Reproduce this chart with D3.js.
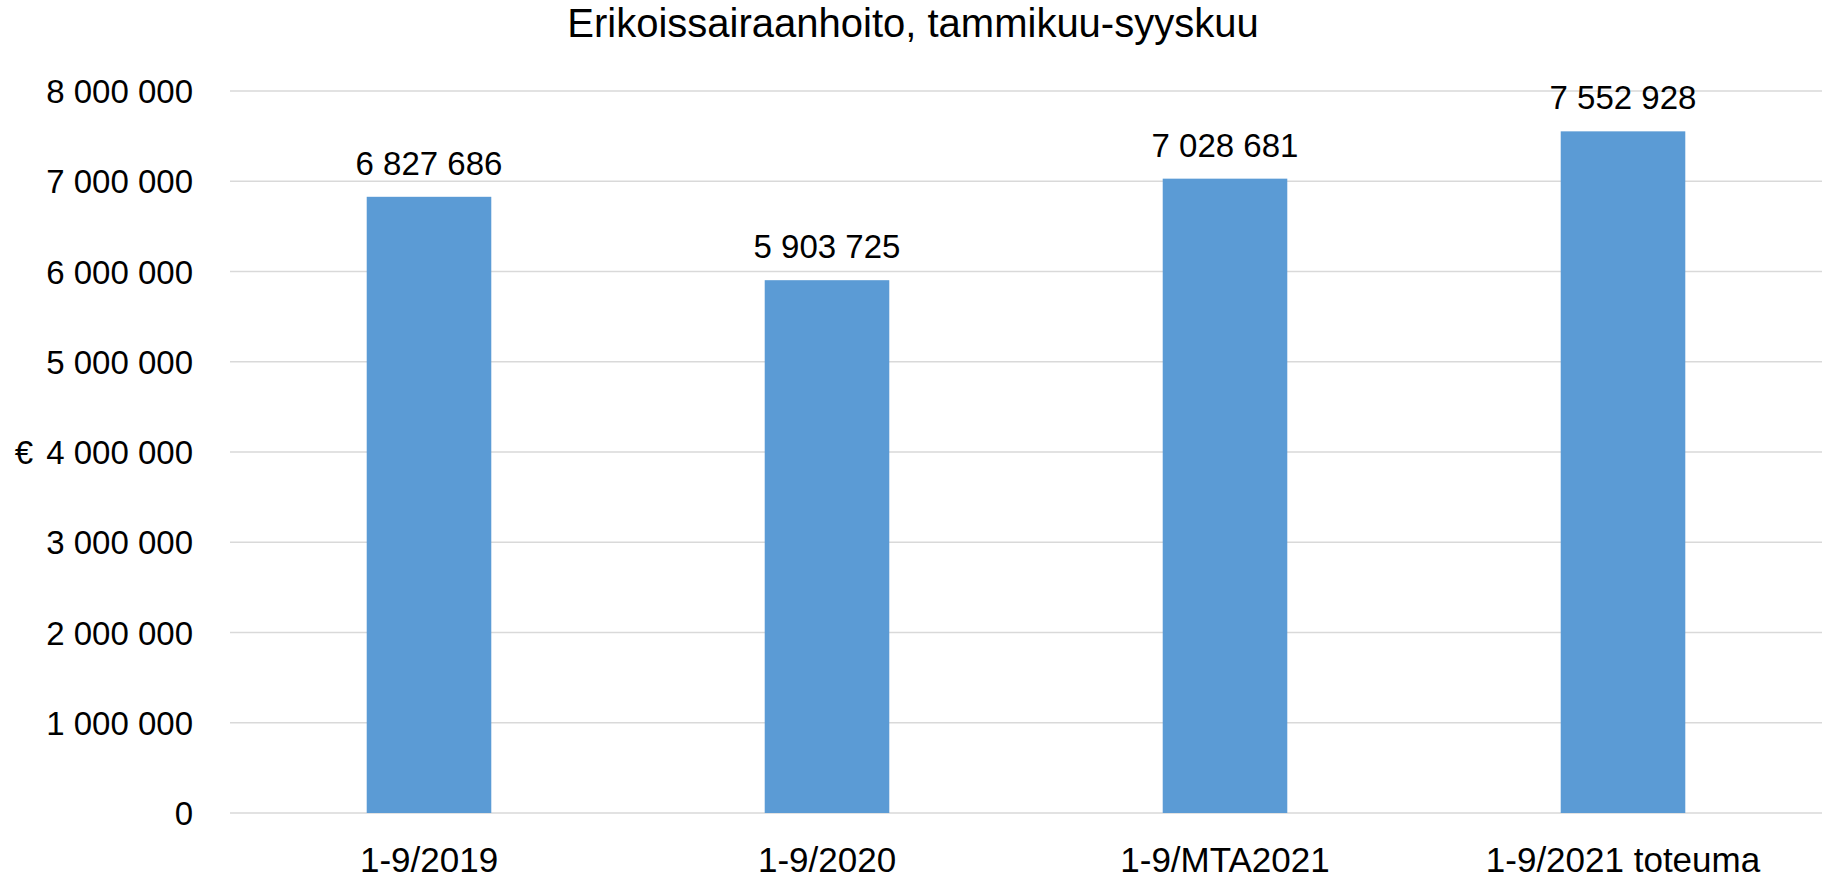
<!DOCTYPE html>
<html>
<head>
<meta charset="utf-8">
<script src="https://cdn.jsdelivr.net/npm/d3@7"></script>
<style>
  html, body { margin: 0; padding: 0; background: #fff; }
  svg { display: block; }
  text { font-family: "Liberation Sans", Arial, sans-serif; fill: #000; }
</style>
</head>
<body>
<svg id="chart" width="1825" height="879"></svg>
<script>
const categories = ["1-9/2019", "1-9/2020", "1-9/MTA2021", "1-9/2021 toteuma"];
const values = [6827686, 5903725, 7028681, 7552928];
const yTicks = [0, 1000000, 2000000, 3000000, 4000000, 5000000, 6000000, 7000000, 8000000];
const titleText = "Erikoissairaanhoito, tammikuu-syyskuu";
const yAxisTitle = "€";

const W = 1825, H = 879;
const margin = { left: 230, right: 3, top: 91, bottom: 66 };
const svg = d3.select("#chart");

const fmt = v => d3.format(",")(v).replace(/,/g, " ");

const x = d3.scaleBand()
  .domain(categories)
  .range([margin.left, W - margin.right])
  .paddingInner(0.687)
  .paddingOuter(0.3435);

const y = d3.scaleLinear()
  .domain([0, 8000000])
  .range([H - margin.bottom, margin.top]);

// gridlines
svg.append("g")
  .selectAll("line")
  .data(yTicks)
  .join("line")
  .attr("x1", margin.left)
  .attr("x2", W - margin.right)
  .attr("y1", d => y(d))
  .attr("y2", d => y(d))
  .attr("stroke", "#D9D9D9")
  .attr("stroke-width", 1.5);

// y axis labels
const yAxis = d3.axisLeft(y).tickValues(yTicks).tickFormat(fmt).tickSize(0).tickPadding(0);
const gy = svg.append("g")
  .attr("transform", `translate(${193},0)`)
  .call(yAxis);
gy.select(".domain").remove();
gy.selectAll("text")
  .attr("font-family", "Liberation Sans, Arial, sans-serif")
  .attr("font-size", 33)
  .attr("fill", "#000")
  .attr("dy", "0.35em");

// bars
svg.append("g")
  .selectAll("rect")
  .data(values)
  .join("rect")
  .attr("x", (d, i) => x(categories[i]))
  .attr("width", x.bandwidth())
  .attr("y", d => y(d))
  .attr("height", d => y(0) - y(d))
  .attr("fill", "#5B9BD5");

// data labels
svg.append("g")
  .selectAll("text")
  .data(values)
  .join("text")
  .attr("x", (d, i) => x(categories[i]) + x.bandwidth() / 2)
  .attr("y", d => y(d) - 22)
  .attr("text-anchor", "middle")
  .attr("font-size", 33)
  .text(d => fmt(d));

// x axis labels
const xAxis = d3.axisBottom(x).tickSize(0).tickPadding(0);
const gx = svg.append("g")
  .attr("transform", `translate(0,${H - margin.bottom})`)
  .call(xAxis);
gx.select(".domain").remove();
gx.selectAll("text")
  .attr("font-family", "Liberation Sans, Arial, sans-serif")
  .attr("font-size", 35)
  .attr("fill", "#000")
  .attr("dy", null)
  .attr("y", 58.5);

// title
svg.append("text")
  .attr("x", 913)
  .attr("y", 37)
  .attr("text-anchor", "middle")
  .attr("font-size", 40)
  .text(titleText);

// y axis title
svg.append("text")
  .attr("x", 24)
  .attr("y", y(4000000))
  .attr("dy", "0.35em")
  .attr("text-anchor", "middle")
  .attr("font-size", 33)
  .text(yAxisTitle);
</script>
</body>
</html>
